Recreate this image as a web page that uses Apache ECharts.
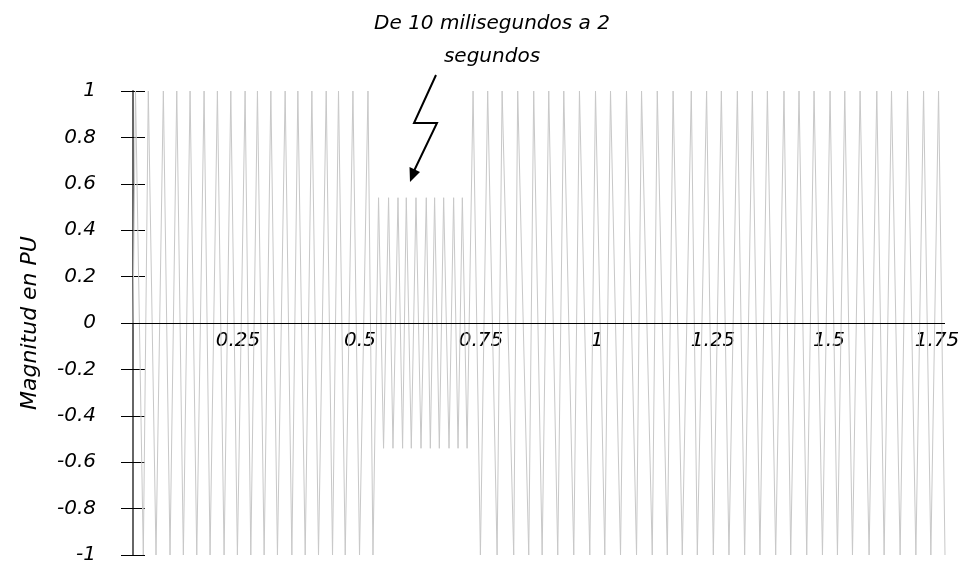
<!DOCTYPE html>
<html>
<head>
<meta charset="utf-8">
<script src="https://cdn.jsdelivr.net/npm/echarts@6/dist/echarts.min.js"></script>
<style>
html,body{margin:0;padding:0;background:#fff;}
#chart{width:963px;height:561px;}
</style>
</head>
<body>
<div id="chart"></div>
<script>
// Time (s) of each turning point of the waveform
const time = [
  0, 0.0054, 0.0222, 0.0330, 0.0496, 0.0654, 0.0798, 0.0943, 0.1085, 0.1230,
  0.1374, 0.1532, 0.1661, 0.1819, 0.1963, 0.2108, 0.2250, 0.2416, 0.2539, 0.2682,
  0.2826, 0.2971, 0.3113, 0.3279, 0.3424, 0.3553, 0.3711, 0.3855, 0.3998, 0.4164,
  0.4300, 0.4429, 0.4574, 0.4740, 0.4882, 0.5064, 0.5172,
  0.5292, 0.5400, 0.5508, 0.5603, 0.5711, 0.5810, 0.5890, 0.5998, 0.6099, 0.6207,
  0.6321, 0.6408, 0.6500, 0.6602, 0.6695, 0.6811, 0.6910, 0.7005, 0.7098, 0.7200,
  0.7329, 0.7487, 0.7644, 0.7847, 0.7955, 0.8205, 0.8291, 0.8529, 0.8636, 0.8818,
  0.8960, 0.9154, 0.9284, 0.9499, 0.9622, 0.9845, 0.9968, 1.0168, 1.0291, 1.0507,
  1.0636, 1.0852, 1.0960, 1.1191, 1.1299, 1.1515, 1.1640, 1.1838, 1.2032, 1.2162,
  1.2362, 1.2507, 1.2680, 1.2844, 1.3025, 1.3182, 1.3348, 1.3512, 1.3672, 1.3851,
  1.4030, 1.4175, 1.4354, 1.4520, 1.4678, 1.4859, 1.5023, 1.5182, 1.5340, 1.5506,
  1.5670, 1.5864, 1.6030, 1.6188, 1.6347, 1.6533, 1.6693, 1.6872, 1.7038, 1.7195,
  1.7361, 1.7500
];
// Magnitude (PU) at each of those points
const magnitude = [
  0, 1, -1, 1, -1, 1, -1, 1, -1, 1,
  -1, 1, -1, 1, -1, 1, -1, 1, -1, 1,
  -1, 1, -1, 1, -1, 1, -1, 1, -1, 1,
  -1, 1, -1, 1, -1, 1, -1,
  0.54, -0.54, 0.54, -0.54, 0.54, -0.54, 0.54, -0.54, 0.54, -0.54,
  0.54, -0.54, 0.54, -0.54, 0.54, -0.54, 0.54, -0.54, 0.54, -0.54,
  1, -1, 1, -1, 1, -1, 1, -1, 1, -1,
  1, -1, 1, -1, 1, -1, 1, -1, 1, -1,
  1, -1, 1, -1, 1, -1, 1, -1, 1, -1,
  1, -1, 1, -1, 1, -1, 1, -1, 1, -1,
  1, -1, 1, -1, 1, -1, 1, -1, 1, -1,
  1, -1, 1, -1, 1, -1, 1, -1, 1, -1,
  1, -1
];
const xTicks = ['0.25', '0.5', '0.75', '1', '1.25', '1.5', '1.75'];
const yTitle = 'Magnitud en PU';
const note = 'De 10 milisegundos a 2\nsegundos';

const FONT = 'DejaVu Sans';
const LBL = 20;
const chart = echarts.init(document.getElementById('chart'), null, {renderer: 'canvas'});
const data = time.map((t, i) => [t, magnitude[i]]);
const lab = (extra) => Object.assign({fontFamily: FONT, fontStyle: 'italic', fontSize: LBL, color: '#000'}, extra || {});

chart.setOption({
  animation: false,
  backgroundColor: '#ffffff',
  title: {
    text: note,
    left: 487,
    top: 2,
    textAlign: 'center',
    textStyle: {fontFamily: FONT, fontStyle: 'italic', fontWeight: 'normal', fontSize: 20, color: '#000', lineHeight: 33}
  },
  grid: {left: 133, right: 18, top: 91, bottom: 6, containLabel: false, outerBoundsMode: 'none'},
  xAxis: {
    type: 'value', min: 0, max: 1.75, interval: 0.25, position: 'bottom',
    axisLine: {show: false, onZero: false},
    axisTick: {show: false},
    splitLine: {show: false},
    axisLabel: {
      showMinLabel: false,
      margin: -224,
      formatter: function (v) {
        const i = Math.round(v / 0.25) - 1;
        if (i < 0 || i >= xTicks.length) return '';
        if (i === 0) return '{a|' + xTicks[i] + '}';
        if (i === 1) return '{b|' + xTicks[i] + '}';
        if (i === xTicks.length - 1) return '{c|' + xTicks[i] + '}';
        return '{n|' + xTicks[i] + '}';
      },
      rich: {
        n: lab(),
        a: lab({padding: [0, 22, 0, 0]}),
        b: lab({padding: [0, 10, 0, 0]}),
        c: lab({padding: [0, 16, 0, 0]})
      }
    }
  },
  yAxis: [{
    type: 'value', min: -1, max: 1, interval: 0.2,
    name: yTitle, nameLocation: 'middle', nameGap: 92, nameRotate: 90,
    nameTextStyle: {fontFamily: FONT, fontStyle: 'italic', fontSize: 22, color: '#000'},
    axisLine: {show: true, onZero: false, lineStyle: {color: '#666', width: 2}},
    axisTick: {show: true, inside: false, length: 12, lineStyle: {color: '#000', width: 1}},
    splitLine: {show: false},
    axisLabel: {
      margin: 37, fontFamily: FONT, fontStyle: 'italic', fontSize: LBL, color: '#000',
      formatter: function (v) { return String(Math.round(v * 10) / 10); }
    }
  }, {
    type: 'value', min: -1, max: 1, interval: 0.2, position: 'left',
    axisLine: {show: false, onZero: false},
    axisTick: {show: true, inside: true, length: 12, lineStyle: {color: '#000', width: 1}},
    splitLine: {show: false},
    axisLabel: {show: false}
  }],
  series: [{
    type: 'line',
    data: data,
    showSymbol: false,
    symbol: 'none',
    z: 2,
    lineStyle: {color: '#c8c8c8', width: 1},
    clip: false,
    markLine: {
      silent: true,
      symbol: ['none', 'none'],
      label: {show: false},
      lineStyle: {color: '#000', width: 1, type: 'solid'},
      data: [{yAxis: 0}],
      z: 5
    }
  }],
  graphic: [{
    type: 'polyline',
    shape: {points: [[436, 75], [414, 123], [437, 123], [413, 173]]},
    style: {stroke: '#000', lineWidth: 2, fill: null},
    z: 100
  }, {
    type: 'polygon',
    shape: {points: [[410, 182], [420, 172], [409.5, 167]]},
    style: {fill: '#000'},
    z: 100
  }]
});
</script>
</body>
</html>
